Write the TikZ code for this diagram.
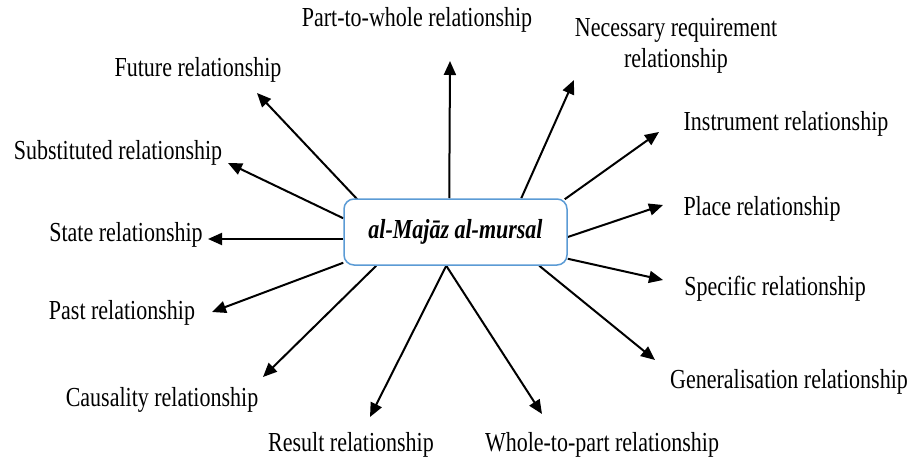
\documentclass[tikz,border=0pt]{standalone}
\usepackage{fontspec}
\usepackage{graphicx}
\setmainfont{Liberation Serif}
\usetikzlibrary{arrows.meta}
\pgfdeclarelayer{background}
\pgfsetlayers{background,main}
\newcommand{\vtall}[1]{\scalebox{1}[1.25]{#1}}
\begin{document}
\begin{tikzpicture}[x=1pt,y=-1pt,
  lbl/.style={inner sep=0pt,font=\fontsize{22}{30}\selectfont,align=center},
  hubbox/.style={draw={rgb,255:red,91;green,155;blue,213},line width=1.5pt,rounded corners=10pt,fill=white,minimum width=223pt,minimum height=66pt,inner sep=0pt,font=\fontsize{22}{26}\selectfont\bfseries\itshape},
  arr/.style={line width=2pt,-{Triangle[length=14pt,width=12pt]}}]
\path[use as bounding box] (0,0) rectangle (913,460);
\node[hubbox] (hub) at (455.5,232) {\vtall{al-Majāz al-mursal}};

\node[lbl] (pw) at (417,20) {\vtall{Part-to-whole relationship}};
\node[lbl] (nec) at (676,46) {\vtall{Necessary requirement}\\[1pt]\vtall{relationship}};
\node[lbl] (fut) at (198,70) {\vtall{Future relationship}};
\node[lbl] (ins) at (786,124) {\vtall{Instrument relationship}};
\node[lbl] (sub) at (118,153) {\vtall{Substituted relationship}};
\node[lbl] (pla) at (762,209) {\vtall{Place relationship}};
\node[lbl] (sta) at (126,235) {\vtall{State relationship}};
\node[lbl] (spe) at (775,289) {\vtall{Specific relationship}};
\node[lbl] (pas) at (122,313) {\vtall{Past relationship}};
\node[lbl] (cau) at (162,400) {\vtall{Causality relationship}};
\node[lbl] (gen) at (789,382) {\vtall{Generalisation relationship}};
\node[lbl] (res) at (351,445) {\vtall{Result relationship}};
\node[lbl] (who) at (602,445) {\vtall{Whole-to-part relationship}};

\coordinate (tpw) at (450,61);
\coordinate (tnec) at (574,80);
\coordinate (tfut) at (257,93);
\coordinate (tsub) at (228,163);
\coordinate (tsta) at (208,239);
\coordinate (tpas) at (212,312);
\coordinate (tcau) at (263,377);
\coordinate (tres) at (370,417);
\coordinate (twho) at (542,414);
\coordinate (tgen) at (655,360);
\coordinate (tspe) at (663,280);
\coordinate (tpla) at (663,205);
\coordinate (tins) at (659,132);

\begin{pgfonlayer}{background}
\draw[arr] ([xshift=106pt]hub.north west) -- (tpw);
\draw[arr] ([xshift=178pt]hub.north west) -- (tnec);
\draw[arr] ([xshift=14pt,yshift=-1pt]hub.north west) -- (tfut);
\draw[arr] ([yshift=-20pt]hub.north west) -- (tsub);
\draw[arr] ([yshift=-7pt]hub.west) -- (tsta);
\draw[arr] ([yshift=3pt]hub.south west) -- (tpas);
\draw[arr] ([xshift=33pt]hub.south west) -- (tcau);
\draw[arr] ([xshift=103pt]hub.south west) -- (tres);
\draw[arr] ([xshift=103pt]hub.south west) -- (twho);
\draw[arr] ([xshift=196pt]hub.south west) -- (tgen);
\draw[arr] ([yshift=7pt]hub.south east) -- (tspe);
\draw[arr] ([yshift=-5pt]hub.east) -- (tpla);
\draw[arr] ([xshift=-3pt,yshift=-1pt]hub.north east) -- (tins);
\end{pgfonlayer}
\end{tikzpicture}
\end{document}
